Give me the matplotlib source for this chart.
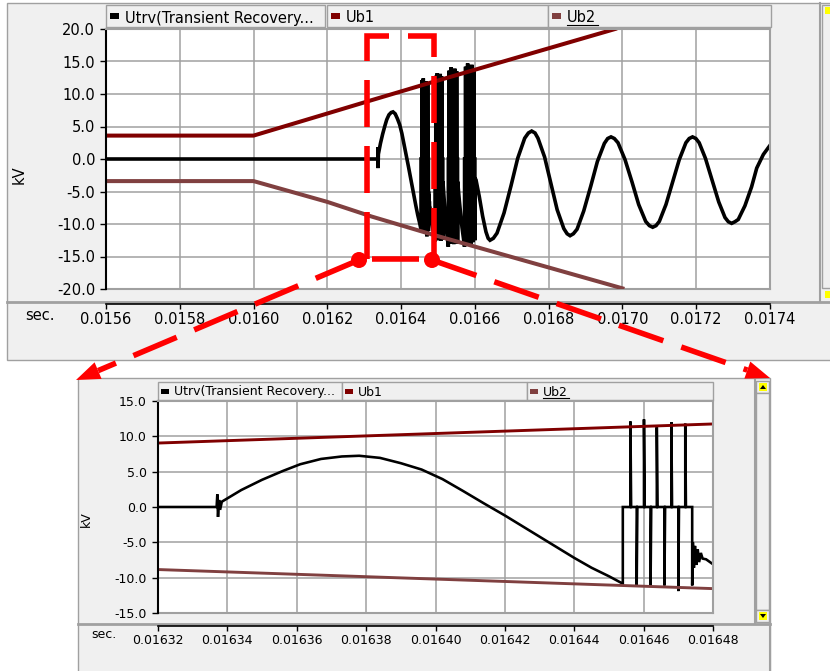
import numpy as np
import matplotlib.pyplot as plt
from matplotlib.patches import Rectangle, Circle, Polygon

plt.rcParams['font.family'] = ['DejaVu Sans']
plt.rcParams['lines.scale_dashes'] = False

# ---- data (time in s, voltage in kV) ----
ub1_t = [0.0156, 0.0160, 0.0162, 0.01632, 0.01648, 0.01698]
ub1_v = [3.6, 3.6, 7.0, 9.05, 11.75, 20.0]
ub2_t = [0.0156, 0.0160, 0.0162, 0.01632, 0.01648, 0.0170]
ub2_v = [-3.4, -3.4, -6.6, -8.85, -11.55, -19.9]

# zero before current interruption, then first recovery swing
rec_t = [0.0156, 0.0163369, 0.0163371, 0.0163373, 0.0163376, 0.0163379, 0.0163384,
         0.016344, 0.01635, 0.016356, 0.016361, 0.016367, 0.016373, 0.016378,
         0.016384, 0.01639, 0.016396, 0.016402, 0.016408, 0.016414, 0.01642,
         0.016427, 0.016433, 0.01644, 0.016445, 0.01645]
rec_v = [0.0, 0.0, 1.8, -1.4, 1.0, -0.4, 0.75,
         2.4, 3.85, 5.1, 6.05, 6.8, 7.15, 7.25,
         6.95, 6.2, 5.3, 3.95, 2.25, 0.5, -1.2,
         -3.3, -5.1, -7.2, -8.6, -9.8]

# restrike bursts (first entry = where the swing is cut, then pulses)
burst_t = [
    [0.016454, 0.0164562, 0.016458, 0.0164601, 0.016462, 0.0164638, 0.016466,
     0.016468, 0.01647, 0.016472, 0.016474],
    [0.016492, 0.016494, 0.016496, 0.016498, 0.0165, 0.016502, 0.016504,
     0.016506, 0.016508, 0.01651, 0.016513],
    [0.016528, 0.0165305, 0.016533, 0.0165355, 0.016538, 0.0165405, 0.016543,
     0.0165455, 0.016548, 0.0165505, 0.016553],
    [0.016572, 0.0165748, 0.0165776, 0.0165804, 0.0165832, 0.016586, 0.0165888,
     0.0165916, 0.0165944, 0.0165972, 0.0166],
]
burst_v = [
    [-10.85, 12.1, -11.1, 12.4, -11.1, 11.3, -11.1, 12.0, -11.9, 11.8, -11.1],
    [-12.7, 12.8, -12.3, 13.2, -12.5, 12.9, -12.3, 13.1, -12.6, 12.7, -12.4],
    [-13.5, 13.6, -13.0, 14.1, -12.8, 13.8, -13.1, 13.9, -12.9, 13.5, -13.0],
    [-13.5, 14.2, -13.0, 14.7, -12.9, 14.4, -13.1, 14.5, -12.8, 14.0, -12.5],
]
# ringing / decay after each burst
after_t = [
    [0.0164742, 0.0164745, 0.0164748, 0.0164752, 0.0164756, 0.016476, 0.0164765,
     0.016477, 0.016478, 0.01648, 0.016486],
    [0.0165134, 0.016517, 0.016522],
    [0.0165534, 0.016558, 0.016565],
    [0.0166004, 0.016603, 0.016612, 0.016621, 0.01663, 0.016636],
]
after_v = [
    [-5.0, -8.6, -5.5, -8.2, -6.0, -7.8, -6.5, -7.3, -7.4, -8.1, -10.8],
    [-3.5, -6.5, -10.5],
    [-3.5, -6.5, -10.5],
    [-3.0, -3.2, -5.8, -8.8, -11.2, -12.2],
]
# final oscillation
tail_t = [0.016641, 0.01665, 0.01666, 0.016679, 0.016698, 0.016716, 0.016735, 0.016745,
          0.016754, 0.016763, 0.016771, 0.016789, 0.016806, 0.016823, 0.016841, 0.01685,
          0.016858, 0.016867, 0.016877, 0.016895, 0.016914, 0.016932, 0.016951, 0.01696,
          0.016969, 0.016978, 0.016988, 0.017007, 0.017026, 0.017044, 0.017063, 0.017073,
          0.017082, 0.017091, 0.0171, 0.017118, 0.017136, 0.017154, 0.017172, 0.017181,
          0.01719, 0.017199, 0.017208, 0.017225, 0.017243, 0.017261, 0.017278, 0.017287,
          0.017296, 0.017305, 0.017314, 0.017332, 0.01735, 0.017364, 0.017382, 0.0174]
tail_v = [-12.5, -12.2, -11.4, -8.3, -4.1, 0.1, 3.2, 4.0,
          4.3, 4.0, 3.2, 0.3, -3.75, -7.8, -10.7, -11.5,
          -11.8, -11.5, -10.8, -8.0, -4.2, -0.4, 2.4, 3.15,
          3.4, 3.15, 2.5, -0.1, -3.55, -7.0, -9.6, -10.25,
          -10.5, -10.25, -9.6, -7.0, -3.55, -0.1, 2.5, 3.15,
          3.4, 3.15, 2.5, 0.1, -3.25, -6.6, -9.0, -9.65,
          -9.9, -9.65, -9.3, -7.2, -4.3, -1.4, 0.7, 2.1]

top_xticks = [0.0156, 0.0158, 0.0160, 0.0162, 0.0164, 0.0166, 0.0168, 0.0170, 0.0172, 0.0174]
top_yticks = [-20, -15, -10, -5, 0, 5, 10, 15, 20]
bot_xticks = [0.01632, 0.01634, 0.01636, 0.01638, 0.01640, 0.01642, 0.01644, 0.01646, 0.01648]
bot_yticks = [-15, -10, -5, 0, 5, 10, 15]
series_names = ['Utrv(Transient Recovery...', 'Ub1', 'Ub2']
series_colors = ['#000000', '#800000', '#804040']

# ---- build the Utrv polyline ----
PW = 2e-7
ut = list(rec_t)
uv = list(rec_v)
for bt, bv, at, av in zip(burst_t, burst_v, after_t, after_v):
    ut += [bt[0], bt[0]]
    uv += [bv[0], 0.0]
    for tp, vp in zip(bt[1:-1], bv[1:-1]):
        ut += [tp, tp, tp + PW]
        uv += [0.0, vp, 0.0]
    ut += [bt[-1], bt[-1]]
    uv += [0.0, bv[-1]]
    ut += at
    uv += av
ut += tail_t
uv += tail_v

W, H = 830, 671
fig = plt.figure(figsize=(W / 100, H / 100), dpi=100)
PX = 0.72  # points per pixel
GREY = '#f0f0f0'
EDGE = '#a0a0a0'


def px_axes(x0, y0, x1, y1, z=1):
    return fig.add_axes([x0 / W, 1 - y1 / H, (x1 - x0) / W, (y1 - y0) / H], zorder=z)


# ---- window chrome ----
bg = px_axes(0, 0, W, H, z=0)
bg.set_xlim(0, W)
bg.set_ylim(H, 0)
bg.axis('off')

bg.add_patch(Rectangle((7, 3), 830, 357, fc=GREY, ec=EDGE, lw=1))
bg.add_patch(Rectangle((78, 378), 692, 300, fc=GREY, ec=EDGE, lw=1))
bg.plot([7, 830], [302, 302], color=EDGE, lw=2)
bg.plot([820, 820], [3, 302], color=EDGE, lw=1.5)
bg.plot([78, 770], [624, 624], color=EDGE, lw=2)
bg.plot([755, 755], [378, 624], color=EDGE, lw=1.5)

# scrollbars
bg.add_patch(Rectangle((822, 5), 10, 283, fc=GREY, ec=EDGE, lw=1))
bg.add_patch(Rectangle((825, 7), 6, 7, fc='#ffff00', ec='none'))
bg.add_patch(Rectangle((825, 291), 6, 7, fc='#ffff00', ec='none'))
bg.add_patch(Rectangle((756, 381), 13, 12, fc=GREY, ec=EDGE, lw=1))
bg.add_patch(Rectangle((759, 383), 8, 8, fc='#ffff00', ec='none'))
bg.add_patch(Polygon([(760, 389), (766, 389), (763, 385)], fc='black'))
bg.add_patch(Rectangle((756, 393), 13, 217, fc=GREY, ec=EDGE, lw=1))
bg.add_patch(Rectangle((756, 610), 13, 12, fc=GREY, ec=EDGE, lw=1))
bg.add_patch(Rectangle((759, 612), 8, 8, fc='#ffff00', ec='none'))
bg.add_patch(Polygon([(760, 614), (766, 614), (763, 618)], fc='black'))
bg.plot([770, 770], [624, 671], color=EDGE, lw=1.5)


def legend_bar(cells, y0, y1, fs, mw, mh, moff, toff, ul_len):
    for (x0, x1), name, col in zip(cells, series_names, series_colors):
        bg.add_patch(Rectangle((x0, y0), x1 - x0, y1 - y0, fc=GREY, ec=EDGE, lw=1))
        yc = (y0 + y1) / 2
        bg.add_patch(Rectangle((x0 + moff, yc - mh / 2), mw, mh, fc=col, ec='none'))
        base = y1 - 4.5
        bg.text(x0 + toff, base, name, fontsize=fs, va='baseline', ha='left')
        if name == 'Ub2':
            bg.plot([x0 + toff, x0 + toff + ul_len], [base + 2, base + 2], color='black', lw=0.8)


legend_bar([(106, 325), (327, 548), (548, 771)], 5, 27, 10.5, 9, 6, 4, 19, 31)
legend_bar([(158, 342), (342, 527), (527, 713)], 382, 400, 9, 8, 5, 3, 16, 26)

bg.text(25, 320, 'sec.', fontsize=10.5, va='baseline')
bg.text(91, 638, 'sec.', fontsize=9, va='baseline')
bg.text(19, 175, 'kV', fontsize=10.5, rotation=90, ha='center', va='center')
bg.text(86, 519, 'kV', fontsize=9, rotation=90, ha='center', va='center')


# ---- the two plots ----
def setup(ax, xlim, ylim, xticks, yticks, xfmt, fs, drop_px, lw_scale):
    ax.set_xlim(*xlim)
    ax.set_ylim(*ylim)
    ax.set_xticks(xticks)
    ax.set_xticklabels([xfmt.format(x) for x in xticks])
    ax.set_yticks(yticks)
    ax.set_yticklabels(['{:.1f}'.format(y) for y in yticks])
    ax.grid(True, color=EDGE, lw=1.1)
    ax.set_axisbelow(True)
    ax.axhline(ylim[0], color=EDGE, lw=1.5, clip_on=False, zorder=0.5)
    for s in ('top', 'right'):
        ax.spines[s].set_color(EDGE)
        ax.spines[s].set_linewidth(1.5)
    ax.spines['left'].set_linewidth(1.5)
    ax.spines['bottom'].set_position(('outward', drop_px * PX))
    ax.spines['bottom'].set_linewidth(1.2)
    ax.tick_params(axis='y', direction='out', length=6 * PX, width=1, labelsize=fs, pad=5 * PX)
    ax.tick_params(axis='x', direction='out', length=5 * PX, width=1, labelsize=fs, pad=2.5)
    ax.plot(ut, uv, color=series_colors[0], lw=2.6 * lw_scale, solid_joinstyle='miter')
    ax.plot(ub1_t, ub1_v, color=series_colors[1], lw=2.9 * lw_scale)
    ax.plot(ub2_t, ub2_v, color=series_colors[2], lw=2.9 * lw_scale)


ax1 = px_axes(106, 29, 770, 289)
setup(ax1, (0.0156, 0.0174), (-20, 20), top_xticks, top_yticks, '{:.4f}', 10.5, 15, 1.0)
ax2 = px_axes(158, 401, 713, 613)
setup(ax2, (0.01632, 0.01648), (-15, 15), bot_xticks, bot_yticks, '{:.5f}', 9, 13, 0.72)

# ---- red zoom annotation ----
ov = px_axes(0, 0, W, H, z=5)
ov.set_xlim(0, W)
ov.set_ylim(H, 0)
ov.axis('off')
ov.patch.set_alpha(0)

RED = '#ff0000'
DASH = (47 * PX, 19 * PX)
ov.plot([367, 367, 434, 434, 367], [259, 36, 36, 259, 259], color=RED, lw=4,
        dashes=DASH, dash_joinstyle='miter', dash_capstyle='butt')
for start, tip in [((359, 260), (76, 380)), ((432, 260), (770, 378))]:
    p0 = np.array(start, float)
    p1 = np.array(tip, float)
    d = (p1 - p0) / np.hypot(*(p1 - p0))
    base = p1 - d * 24
    perp = np.array([-d[1], d[0]])
    ov.plot([p0[0], base[0]], [p0[1], base[1]], color=RED, lw=4, dashes=DASH,
            dash_capstyle='butt')
    ov.add_patch(Polygon([p1, base + perp * 9, base - perp * 9], fc=RED, ec='none'))
    ov.add_patch(Circle(start, 8, fc=RED, ec='none'))

fig.savefig('out.png', dpi=100)
